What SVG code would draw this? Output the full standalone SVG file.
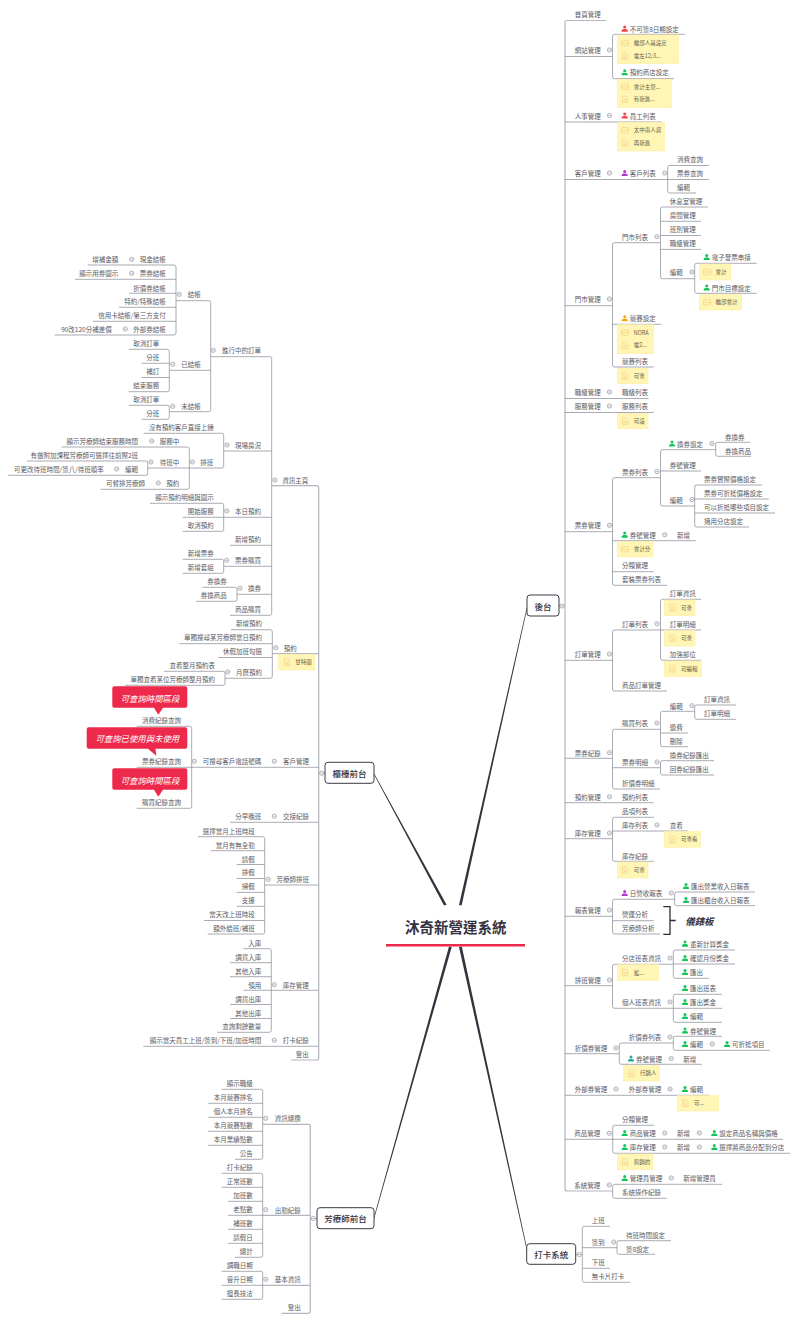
<svg xmlns="http://www.w3.org/2000/svg" width="798" height="1321" viewBox="0 0 798 1321">
<style>
text{font-family:"Noto Sans CJK TC","Noto Sans CJK SC","Liberation Sans",sans-serif;dominant-baseline:central}
.t,.r{font-size:6.5px;fill:#5a5a64}
.r{text-anchor:end}
.s{font-size:5.5px;fill:#66604a}
.b{font-size:8.5px;font-weight:500;fill:#33333f;text-anchor:middle}
.box{fill:#fff;stroke:#3a3a48;stroke-width:1}
.note{fill:#fff5b5;stroke:#ffeea6;stroke-width:.6}
.l{fill:none;stroke:#8f8f9a;stroke-width:.75}
.k{fill:none;stroke:#b4b4c0;stroke-width:1.2}
.dot{fill:#fff;stroke:#8f8f9a;stroke-width:.7}
.dm{stroke:#8f8f9a;stroke-width:.6}
.ic{fill:none;stroke:#f7cf82;stroke-width:.7}
.c{fill:#ee2a4c}
.ct{font-size:8.4px;font-style:italic;fill:#fff;text-anchor:middle}
.ur{fill:#f2434a}.ug{fill:#12c45c}.up{fill:#b23ad2}.uo{fill:#ffa600}.ut{fill:#24a79c}
</style>
<defs>
<g id="u"><circle cx="0" cy="-1.6" r="1.5"/><path d="M-3 3V1.9Q-3 .7-1 .4H1Q3 .7 3 1.9V3Z"/></g>
<g id="d"><circle class="dot" r="2.1"/><path class="dm" d="M-1.2 0H1.2"/></g>
<g id="ca"><rect class="ic" x="-3.5" y="-2.7" width="7" height="5.4" rx=".8"/><path class="ic" d="M-3.5 0H3.5"/></g>
<g id="do"><path class="ic" d="M-2.6-3.2H1L2.6-1.6V3.2H-2.6ZM-1.2 0H1.2M-1.2 1.5H1.2"/></g>
</defs>
<rect width="798" height="1321" fill="#fff"/>
<g id="connectors">
<path fill="#34343f" d="M459 905L526.7 607.7 527.3 607.9 461.6 905.5ZM444 905.5L373.7 774 374.3 773.7 446.6 904.7ZM449 946.5L373.7 1218 374.3 1218.2 451.7 947ZM459 947L526.7 1250 527.3 1249.8 461.8 946.6Z"/>
<path d="M386 945.3H525" stroke="#ee2a4c" stroke-width="2.6" fill="none"/>
<path class="k" d="M271.7 485.7H316.7Q318.7 485.7 318.7 487.7V1058Q318.7 1060 316.7 1060H291M318.7 773H325"/>
<path class="k" d="M606 20.5H567Q565 20.5 565 22.5V1189Q565 1191 567 1191H612.7M559 605.5H565"/>
<path class="k" d="M262.7 1124.3H308.3Q310.3 1124.3 310.3 1126.3V1311.3Q310.3 1313.3 308.3 1313.3H281.7M262.7 1215.3H310.3M262.7 1285.3H310.3M310.3 1218.5H317"/>
<path class="l" d="M565 56.5H612.5M685 34.3H614.5Q612.5 34.3 612.5 36.3V76.7Q612.5 78.7 614.5 78.7H674M565 122H661.7M565 179.5H709M709 165.5H669.7Q667.7 165.5 667.7 167.5V191Q667.7 193 669.7 193H696M565 305.7H612.5M660.5 242.7H614.5Q612.5 242.7 612.5 244.7V365Q612.5 367 614.5 367H653.7M612.5 324.3H661.3M708 207H662.5Q660.5 207 660.5 209V276.7Q660.5 278.7 662.5 278.7H694.7M660.5 221.3H701M660.5 235.5H701M660.5 249.4H701M756.7 263.3H696.7Q694.7 263.3 694.7 265.3V291.3Q694.7 293.3 696.7 293.3H756.7M565 398.5H648.7M565 412.5H653.7"/>
<path class="l" d="M565 531.7H612.5M660.5 477.7H614.5Q612.5 477.7 612.5 479.7V583.3Q612.5 585.3 614.5 585.3H667M612.5 540.7H695.7M612.5 571.7H653.7M715.7 449.7H662.5Q660.5 449.7 660.5 451.7V504Q660.5 506 662.5 506H694.7M660.5 471H701M750 442.3H717.7Q715.7 442.3 715.7 444.3V454.3Q715.7 456.3 717.7 456.3H751M762 485H696.7Q694.7 485 694.7 487V525Q694.7 527 696.7 527H749M694.7 499H768.7M694.7 513H775"/>
<path class="l" d="M565 660.3H612.5M660.5 630H614.5Q612.5 630 612.5 632V689Q612.5 691 614.5 691H667M701 599.3H662.5Q660.5 599.3 660.5 601.3V658.3Q660.5 660.3 662.5 660.3H701M660.5 630H701M565 758.3H612.5M660.5 729.3H614.5Q612.5 729.3 612.5 731.3V787Q612.5 789 614.5 789H660M612.5 767.7H660.5M694.7 711.3H662.5Q660.5 711.3 660.5 713.3V744.7Q660.5 746.7 662.5 746.7H688M660.5 733H688M736 705H696.7Q694.7 705 694.7 707V717.3Q694.7 719.3 696.7 719.3H736M714 760.7H662.5Q660.5 760.7 660.5 762.7V773Q660.5 775 662.5 775H714M565 802.7H653.7M565 838.7H612.5M654 817.3H614.5Q612.5 817.3 612.5 819.3V859.3Q612.5 861.3 614.5 861.3H654M612.5 831H688"/>
<path class="l" d="M565 916.3H612.5M674.7 899.3H614.5Q612.5 899.3 612.5 901.3V932Q612.5 934 614.5 934H660M612.5 920.7H653.7M755 892H676.7Q674.7 892 674.7 894V903.7Q674.7 905.7 676.7 905.7H755M565 985.7H612.5M673.3 964.3H614.5Q612.5 964.3 612.5 966.3V1006.3Q612.5 1008.3 614.5 1008.3H673.3M735 950H675.3Q673.3 950 673.3 952V976.3Q673.3 978.3 675.3 978.3H709M673.3 964H735M722 994.3H675.3Q673.3 994.3 673.3 996.3V1020.3Q673.3 1022.3 675.3 1022.3H722M673.3 1008.3H722M565 1053.7H619.3M673.3 1043H621.3Q619.3 1043 619.3 1045V1062.3Q619.3 1064.3 621.3 1064.3H702M722 1036.3H675.3Q673.3 1036.3 673.3 1038.3V1048.3Q673.3 1050.3 675.3 1050.3H770M565 1095.3H709M565 1139.3H783M654 1125.3H614.7Q612.7 1125.3 612.7 1127.3V1151.3Q612.7 1153.3 614.7 1153.3H790M722 1184.3H614.7Q612.7 1184.3 612.7 1186.3V1196.3Q612.7 1198.3 614.7 1198.3H666.7"/>
<path class="l" d="M575.7 1254.5H582.3M610 1226.3H584.3Q582.3 1226.3 582.3 1228.3V1280.3Q582.3 1282.3 584.3 1282.3H630M582.3 1247.7H617M582.3 1268.3H610M671 1240.7H619Q617 1240.7 617 1242.7V1252.3Q617 1254.3 619 1254.3H655"/>
<path class="l" d="M272.3 653.7H318.7M136.7 767.3H318.7M230 822.3H318.7M264.7 885H318.7M271.3 990.3H318.7M143.3 1046.3H318.7M210.7 356.7H269.7Q271.7 356.7 271.7 358.7V613.3Q271.7 615.3 269.7 615.3H230M223.7 451H271.7M223.7 517.3H271.7M230 545.3H271.7M223.7 566.3H271.7M237 594.3H271.7M176 300.7H208.7Q210.7 300.7 210.7 302.7V409.7Q210.7 411.7 208.7 411.7H169.3M169.3 370.3H210.7M87.7 265H174Q176 265 176 267V333Q176 335 174 335H54.7M75 279.3H176M129 293.3H176M119 307.3H176M93 321.3H176M128.7 349.3H167.3Q169.3 349.3 169.3 351.3V389.7Q169.3 391.7 167.3 391.7H128.7M141.7 363.3H169.3M141.7 377.5H169.3M128.7 405.3H167.3Q169.3 405.3 169.3 407.3V417.3Q169.3 419.3 167.3 419.3H141.7M143.7 433.3H221.7Q223.7 433.3 223.7 435.3V466Q223.7 468 221.7 468H147.7M61.7 447H187.3Q189.3 447 189.3 449V487.3Q189.3 489.3 187.3 489.3H100.7M27 461H145.7Q147.7 461 147.7 463V473.3Q147.7 475.3 145.7 475.3H8.3M150 503.3H221.7Q223.7 503.3 223.7 505.3V529.3Q223.7 531.3 221.7 531.3H182.7M182.7 559.3H221.7Q223.7 559.3 223.7 561.3V571.3Q223.7 573.3 221.7 573.3H182.7M202.3 587.3H235Q237 587.3 237 589.3V599.3Q237 601.3 235 601.3H196M182.7 517.3H223.7M231 629.7H270.3Q272.3 629.7 272.3 631.7V676.3Q272.3 678.3 270.3 678.3H225M179.3 643.7H272.3M218.3 657.5H272.3M164 671.3H223Q225 671.3 225 673.3V683.3Q225 685.3 223 685.3H125M136.7 726.3H189.7Q191.7 726.3 191.7 728.3V806.3Q191.7 808.3 189.7 808.3H136.7"/>
<path class="l" d="M198 836.7H262.7Q264.7 836.7 264.7 838.7V932Q264.7 934 262.7 934H207.7M210.7 850.7H264.7M236.7 864.5H264.7M236.7 878.5H264.7M236.7 892.4H264.7M236.7 906.3H264.7M204 920.5H264.7M243.3 948.7H269.3Q271.3 948.7 271.3 950.7V1030.3Q271.3 1032.3 269.3 1032.3H217.3M230 962.7H271.3M230 976.7H271.3M243.3 990.3H271.3M230 1004.5H271.3M230 1018.5H271.3M221.7 1089.3H260.7Q262.7 1089.3 262.7 1091.3V1157.3Q262.7 1159.3 260.7 1159.3H235M208.3 1103.3H262.7M208.3 1117.3H262.7M208.3 1131.3H262.7M208.3 1145.3H262.7M221.7 1173.3H260.7Q262.7 1173.3 262.7 1175.3V1255.3Q262.7 1257.3 260.7 1257.3H235M221.7 1187.3H262.7M228 1201.3H262.7M228 1215.3H262.7M228 1229.3H262.7M228 1243.3H262.7M221.7 1271.3H260.7Q262.7 1271.3 262.7 1273.3V1297.3Q262.7 1299.3 260.7 1299.3H221.7M221.7 1285.3H262.7"/>
<path d="M663.3 906.7H670V934.3H663.3M670 920.5H675.7" fill="none" stroke="#2e2e3a" stroke-width="1.3"/>
<g id="dots">
<use href="#d" x="562" y="606"/><use href="#d" x="609.5" y="50"/><use href="#d" x="609.5" y="115.5"/><use href="#d" x="609.5" y="173"/><use href="#d" x="664.7" y="173"/><use href="#d" x="609.5" y="299"/><use href="#d" x="657" y="236.7"/><use href="#d" x="692" y="272"/><use href="#d" x="609.5" y="392"/><use href="#d" x="609.5" y="406"/><use href="#d" x="609.5" y="525.3"/><use href="#d" x="657" y="471.5"/><use href="#d" x="712" y="443.5"/><use href="#d" x="692" y="499.5"/><use href="#d" x="664.7" y="534.7"/><use href="#d" x="609.5" y="654"/><use href="#d" x="657" y="623.7"/><use href="#d" x="609.5" y="752.7"/><use href="#d" x="657" y="723"/><use href="#d" x="692" y="705.7"/><use href="#d" x="657" y="762"/><use href="#d" x="609.5" y="796.7"/><use href="#d" x="609.5" y="833"/><use href="#d" x="657" y="825"/><use href="#d" x="609.5" y="910"/><use href="#d" x="671.3" y="893"/><use href="#d" x="609.5" y="980"/><use href="#d" x="670" y="958"/><use href="#d" x="670" y="1002"/><use href="#d" x="616" y="1048"/><use href="#d" x="670" y="1037"/><use href="#d" x="712.3" y="1044"/><use href="#d" x="671.3" y="1058.5"/><use href="#d" x="616" y="1089"/><use href="#d" x="670" y="1089"/><use href="#d" x="609.3" y="1133.3"/><use href="#d" x="664.7" y="1133"/><use href="#d" x="699.3" y="1133"/><use href="#d" x="664.7" y="1147"/><use href="#d" x="699.3" y="1147"/><use href="#d" x="609.3" y="1185"/><use href="#d" x="671.3" y="1178"/><use href="#d" x="579.3" y="1254.5"/><use href="#d" x="613.7" y="1242"/>
<use href="#d" x="321.7" y="773.3"/><use href="#d" x="275" y="480"/><use href="#d" x="213.3" y="350.3"/><use href="#d" x="179.3" y="294.3"/><use href="#d" x="131.7" y="259.3"/><use href="#d" x="131.7" y="273.3"/><use href="#d" x="125.3" y="329"/><use href="#d" x="172.7" y="364.3"/><use href="#d" x="172.7" y="406.3"/><use href="#d" x="227" y="445"/><use href="#d" x="192.3" y="462"/><use href="#d" x="151.7" y="441"/><use href="#d" x="151" y="462"/><use href="#d" x="116.7" y="469"/><use href="#d" x="158.3" y="483"/><use href="#d" x="226.7" y="511"/><use href="#d" x="226.7" y="560.3"/><use href="#d" x="240" y="588.3"/><use href="#d" x="275.7" y="647.7"/><use href="#d" x="227.7" y="672"/><use href="#d" x="274.3" y="761.3"/><use href="#d" x="194.3" y="761.3"/><use href="#d" x="274.3" y="816.3"/><use href="#d" x="268.3" y="879.3"/><use href="#d" x="274.3" y="984.7"/><use href="#d" x="274.3" y="1040.3"/>
<use href="#d" x="313.3" y="1218.5"/><use href="#d" x="265.7" y="1118.3"/><use href="#d" x="265.7" y="1209.7"/><use href="#d" x="265.7" y="1279.3"/>
</g>
</g>
<g id="root"><text x="455.7" y="926" font-size="14.5" font-weight="700" fill="#33333f" text-anchor="middle">沐奇新營運系統</text></g>
<g id="backend"><rect class="box" x="527" y="595" width="32" height="21" rx="3"/><text class="b" x="543" y="605.5">後台</text></g>
<g id="counter"><rect class="box" x="325" y="762.3" width="49" height="21" rx="3"/><text class="b" x="349.5" y="772.8">櫃檯前台</text></g>
<g id="therapist"><rect class="box" x="317" y="1207.7" width="57" height="21" rx="3"/><text class="b" x="345.5" y="1218.2">芳療師前台</text></g>
<g id="clock"><rect class="box" x="526.7" y="1243.7" width="49" height="20.6" rx="3"/><text class="b" x="551.2" y="1254">打卡系統</text></g>
<g id="r1"><text class="t" x="574.7" y="14">首頁管理</text></g>
<g id="r2"><text class="t" x="574.7" y="50">網站管理</text></g>
<g id="r3"><use href="#u" class="ur" x="624.7" y="28.7"/><text class="t" x="629.7" y="28.7">不可簽8日期設定</text></g>
<g id="r4"><rect class="note" x="617.3" y="35" width="61.4" height="28.7"/><use href="#ca" x="625" y="43"/><use href="#do" x="625" y="56"/><text class="s" x="633.7" y="43">櫃部人員設定</text><text class="s" x="633.7" y="56">電左12/3...</text></g>
<g id="r5"><use href="#u" class="ug" x="624.7" y="72.3"/><text class="t" x="629.7" y="72.3">預約商店設定</text></g>
<g id="r6"><rect class="note" x="617.3" y="79.3" width="54.4" height="28.4"/><use href="#ca" x="625" y="86.7"/><use href="#do" x="625" y="99.3"/><text class="s" x="633.7" y="86.7">會計主管...</text><text class="s" x="633.7" y="99.3">有新進...</text></g>
<g id="r7"><text class="t" x="574.7" y="115.5">人事管理</text></g>
<g id="r8"><use href="#u" class="ur" x="624.7" y="115.5"/><text class="t" x="629.7" y="115.5">員工列表</text></g>
<g id="r9"><rect class="note" x="617.3" y="122.3" width="47.4" height="28.7"/><use href="#ca" x="625" y="130.3"/><use href="#do" x="625" y="143"/><text class="s" x="633.7" y="130.3">太中南人資</text><text class="s" x="633.7" y="143">再新進</text></g>
<g id="r10"><text class="t" x="574.7" y="173">客戶管理</text></g>
<g id="r11"><use href="#u" class="up" x="624.7" y="173"/><text class="t" x="629.7" y="173">客戶列表</text></g>
<g id="r12"><text class="t" x="677" y="159">消費查詢</text></g>
<g id="r13"><text class="t" x="677" y="173">票券查詢</text></g>
<g id="r14"><text class="t" x="677" y="187">編輯</text></g>
<g id="r15"><text class="t" x="574.7" y="299">門市管理</text></g>
<g id="r16"><text class="t" x="622" y="236.7">門市列表</text></g>
<g id="r17"><text class="t" x="669.7" y="201">休息室管理</text></g>
<g id="r18"><text class="t" x="669.7" y="215">房間管理</text></g>
<g id="r19"><text class="t" x="669.7" y="229">班別管理</text></g>
<g id="r20"><text class="t" x="669.7" y="243">職級管理</text></g>
<g id="r21"><text class="t" x="669.7" y="272">編輯</text></g>
<g id="r22"><use href="#u" class="ug" x="706.7" y="257"/><text class="t" x="711.7" y="257">電子發票串接</text></g>
<g id="r23"><rect class="note" x="699.3" y="264" width="31.4" height="16"/><use href="#ca" x="707" y="272"/><text class="s" x="715.5" y="272">會計</text></g>
<g id="r24"><use href="#u" class="ug" x="706.7" y="287.5"/><text class="t" x="711.7" y="287.5">門市目標設定</text></g>
<g id="r25"><rect class="note" x="699.3" y="294.7" width="42.4" height="15.3"/><use href="#ca" x="707" y="302.3"/><text class="s" x="715.5" y="302.3">櫃部會計</text></g>
<g id="r26"><use href="#u" class="uo" x="624.7" y="318.3"/><text class="t" x="629.7" y="318.3">競賽設定</text></g>
<g id="r27"><rect class="note" x="617.3" y="324.7" width="36.4" height="29"/><use href="#ca" x="625" y="332.7"/><use href="#do" x="625" y="345.3"/><text class="s" x="633.7" y="332.7">NORA</text><text class="s" x="633.7" y="345.3">電2...</text></g>
<g id="r28"><text class="t" x="622" y="361">競賽列表</text></g>
<g id="r29"><rect class="note" x="617.3" y="368.3" width="30.7" height="15.4"/><use href="#do" x="625" y="376"/><text class="s" x="633.7" y="376">可查</text></g>
<g id="r30"><text class="t" x="574.7" y="392">職級管理</text></g>
<g id="r31"><text class="t" x="622" y="392">職級列表</text></g>
<g id="r32"><text class="t" x="574.7" y="406">服務管理</text></g>
<g id="r33"><text class="t" x="622" y="406">服務列表</text></g>
<g id="r34"><rect class="note" x="617.3" y="413.7" width="30.7" height="15"/><use href="#do" x="625" y="421.2"/><text class="s" x="633.7" y="421.2">可設</text></g>
<g id="r35"><text class="t" x="574.7" y="525.3">票券管理</text></g>
<g id="r36"><text class="t" x="622" y="471.5">票券列表</text></g>
<g id="r37"><use href="#u" class="ug" x="672" y="443.5"/><text class="t" x="677" y="443.5">換券設定</text></g>
<g id="r38"><text class="t" x="725" y="437">券換券</text></g>
<g id="r39"><text class="t" x="725" y="450.7">券換商品</text></g>
<g id="r40"><text class="t" x="669.7" y="465">券號管理</text></g>
<g id="r41"><text class="t" x="669.7" y="499.5">編輯</text></g>
<g id="r42"><text class="t" x="704" y="478.5">票券實際價格設定</text></g>
<g id="r43"><text class="t" x="704" y="492.7">票券可折抵價格設定</text></g>
<g id="r44"><text class="t" x="704" y="506.7">可以折抵哪些項目設定</text></g>
<g id="r45"><text class="t" x="704" y="520.7">適用分店設定</text></g>
<g id="r46"><use href="#u" class="ug" x="624.7" y="534.7"/><text class="t" x="629.7" y="534.7">券號管理</text></g>
<g id="r47"><text class="t" x="677" y="534.7">新增</text></g>
<g id="r48"><rect class="note" x="617.3" y="541.5" width="35.7" height="15.5"/><use href="#ca" x="625" y="549.2"/><text class="s" x="633.7" y="549.2">會計分</text></g>
<g id="r49"><text class="t" x="622" y="565">分類管理</text></g>
<g id="r50"><text class="t" x="622" y="579">套裝票券列表</text></g>
<g id="r51"><text class="t" x="574.7" y="654">訂單管理</text></g>
<g id="r52"><text class="t" x="622" y="623.7">訂單列表</text></g>
<g id="r53"><text class="t" x="669.7" y="593.3">訂單資訊</text></g>
<g id="r54"><rect class="note" x="664.3" y="600" width="30.7" height="15.5"/><use href="#do" x="672.5" y="607.7"/><text class="s" x="681" y="607.7">可查</text></g>
<g id="r55"><text class="t" x="669.7" y="623.7">訂單明細</text></g>
<g id="r56"><rect class="note" x="664.3" y="630.6" width="30.7" height="15.5"/><use href="#do" x="672.5" y="638.3"/><text class="s" x="681" y="638.3">可查</text></g>
<g id="r57"><text class="t" x="669.7" y="654">加強部位</text></g>
<g id="r58"><rect class="note" x="664.3" y="661" width="37.4" height="15.7"/><use href="#do" x="672.5" y="668.8"/><text class="s" x="681" y="668.8">可編輯</text></g>
<g id="r59"><text class="t" x="622" y="684.7">商品訂單管理</text></g>
<g id="r60"><text class="t" x="574.7" y="752.7">票券紀錄</text></g>
<g id="r61"><text class="t" x="622" y="723">購買列表</text></g>
<g id="r62"><text class="t" x="669.7" y="705.7">編輯</text></g>
<g id="r63"><text class="t" x="704" y="699">訂單資訊</text></g>
<g id="r64"><text class="t" x="704" y="713">訂單明細</text></g>
<g id="r65"><text class="t" x="669.7" y="727">退費</text></g>
<g id="r66"><text class="t" x="669.7" y="741">刪除</text></g>
<g id="r67"><text class="t" x="622" y="762">票券明細</text></g>
<g id="r68"><text class="t" x="669.7" y="755">換券紀錄匯出</text></g>
<g id="r69"><text class="t" x="669.7" y="769">回券紀錄匯出</text></g>
<g id="r70"><text class="t" x="622" y="783">折價券明細</text></g>
<g id="r71"><text class="t" x="574.7" y="796.7">預約管理</text></g>
<g id="r72"><text class="t" x="622" y="796.7">預約列表</text></g>
<g id="r73"><text class="t" x="574.7" y="833">庫存管理</text></g>
<g id="r74"><text class="t" x="622" y="811">品項列表</text></g>
<g id="r75"><text class="t" x="622" y="825">庫存列表</text></g>
<g id="r76"><text class="t" x="669.7" y="825">查看</text></g>
<g id="r77"><rect class="note" x="664.3" y="831.5" width="36.4" height="15.8"/><use href="#do" x="672.5" y="839.4"/><text class="s" x="681" y="839.4">可查看</text></g>
<g id="r78"><text class="t" x="622" y="855.7">庫存紀錄</text></g>
<g id="r79"><rect class="note" x="617.3" y="862" width="30.7" height="16"/><use href="#do" x="625" y="870"/><text class="s" x="633.7" y="870">可查</text></g>
<g id="r80"><text class="t" x="574.7" y="910">報表管理</text></g>
<g id="r81"><use href="#u" class="up" x="624.7" y="893"/><text class="t" x="629.7" y="893">日營收報表</text></g>
<g id="r82"><use href="#u" class="ug" x="686" y="886"/><text class="t" x="691" y="886">匯出營業收入日報表</text></g>
<g id="r83"><use href="#u" class="ug" x="686" y="900"/><text class="t" x="691" y="900">匯出櫃台收入日報表</text></g>
<g id="r84"><text class="t" x="622" y="914">營運分析</text></g>
<g id="r85"><text class="t" x="622" y="928">芳療師分析</text></g>
<g id="r86"><text x="685.3" y="920.5" font-size="9.4" font-weight="700" font-style="italic" fill="#33333f">儀錶板</text></g>
<g id="r87"><text class="t" x="574.7" y="980">排班管理</text></g>
<g id="r88"><text class="t" x="622" y="958">分店班表資訊</text></g>
<g id="r89"><rect class="note" x="617.3" y="964.6" width="41.4" height="15.7"/><use href="#do" x="625" y="972.5"/><text class="s" x="634" y="972.5">藍...</text></g>
<g id="r90"><use href="#u" class="ug" x="685" y="943.7"/><text class="t" x="690" y="943.7">重新計算獎金</text></g>
<g id="r91"><use href="#u" class="ug" x="685" y="958"/><text class="t" x="690" y="958">確認月份獎金</text></g>
<g id="r92"><use href="#u" class="ug" x="685" y="972"/><text class="t" x="690" y="972">匯出</text></g>
<g id="r93"><text class="t" x="622" y="1002">個人班表資訊</text></g>
<g id="r94"><use href="#u" class="ug" x="685" y="988"/><text class="t" x="690" y="988">匯出班表</text></g>
<g id="r95"><use href="#u" class="ug" x="685" y="1002"/><text class="t" x="690" y="1002">匯出獎金</text></g>
<g id="r96"><use href="#u" class="ug" x="685" y="1016"/><text class="t" x="690" y="1016">編輯</text></g>
<g id="r97"><text class="t" x="574.7" y="1048">折價券管理</text></g>
<g id="r98"><text class="t" x="628.7" y="1037">折價券列表</text></g>
<g id="r99"><use href="#u" class="ug" x="685" y="1030.5"/><text class="t" x="690" y="1030.5">券號管理</text></g>
<g id="r100"><use href="#u" class="ug" x="685" y="1044"/><text class="t" x="690" y="1044">編輯</text></g>
<g id="r101"><use href="#u" class="ug" x="727" y="1044"/><text class="t" x="732" y="1044">可折抵項目</text></g>
<g id="r102"><use href="#u" class="ut" x="631" y="1058.5"/><text class="t" x="636" y="1058.5">券號管理</text></g>
<g id="r103"><text class="t" x="683.3" y="1058.5">新增</text></g>
<g id="r104"><rect class="note" x="623.3" y="1065.7" width="36.4" height="15.3"/><use href="#do" x="631.5" y="1073.3"/><text class="s" x="640" y="1073.3">行銷人</text></g>
<g id="r105"><text class="t" x="574.7" y="1089">外部券管理</text></g>
<g id="r106"><text class="t" x="628.7" y="1089">外部券管理</text></g>
<g id="r107"><use href="#u" class="ug" x="685" y="1089"/><text class="t" x="690" y="1089">編輯</text></g>
<g id="r108"><rect class="note" x="677.3" y="1095.7" width="41.4" height="15.3"/><use href="#do" x="685.5" y="1103.3"/><text class="s" x="694" y="1103.3">可...</text></g>
<g id="r109"><text class="t" x="574.3" y="1133.3">商品管理</text></g>
<g id="r110"><text class="t" x="622" y="1119">分類管理</text></g>
<g id="r111"><use href="#u" class="ug" x="624.7" y="1133"/><text class="t" x="629.7" y="1133">商品管理</text></g>
<g id="r112"><text class="t" x="677" y="1133">新增</text></g>
<g id="r113"><use href="#u" class="ug" x="714.3" y="1133"/><text class="t" x="719.3" y="1133">設定商品名稱與價格</text></g>
<g id="r114"><use href="#u" class="ug" x="624.7" y="1147"/><text class="t" x="629.7" y="1147">庫存管理</text></g>
<g id="r115"><text class="t" x="677" y="1147">新增</text></g>
<g id="r116"><use href="#u" class="ug" x="714.3" y="1147"/><text class="t" x="719.3" y="1147">選擇將商品分配到分店</text></g>
<g id="r117"><rect class="note" x="617.3" y="1154" width="35.7" height="15.7"/><use href="#do" x="625" y="1161.9"/><text class="s" x="633.7" y="1161.9">剪銷的</text></g>
<g id="r118"><text class="t" x="574.3" y="1185">系統管理</text></g>
<g id="r119"><use href="#u" class="ug" x="624.7" y="1178"/><text class="t" x="629.7" y="1178">管理員管理</text></g>
<g id="r120"><text class="t" x="683.3" y="1178">新增管理員</text></g>
<g id="r121"><text class="t" x="622" y="1192">系統操作紀錄</text></g>
<g id="c1"><text class="t" x="591.7" y="1220.3">上班</text></g>
<g id="c2"><text class="t" x="591.7" y="1242">簽到</text></g>
<g id="c3"><text class="t" x="626" y="1235">待班時間設定</text></g>
<g id="c4"><text class="t" x="626" y="1248.7">簽8設定</text></g>
<g id="c5"><text class="t" x="591.7" y="1262.3">下班</text></g>
<g id="c6"><text class="t" x="591.7" y="1276">無卡片打卡</text></g>
<g id="l1"><text class="r" x="308.3" y="480">資訊主頁</text></g>
<g id="l2"><text class="r" x="261" y="350.3">進行中的訂單</text></g>
<g id="l3"><text class="r" x="200.7" y="294.3">結帳</text></g>
<g id="l4"><text class="r" x="165.7" y="259.3">現金結帳</text></g>
<g id="l5"><text class="r" x="118.3" y="259.3">增補金額</text></g>
<g id="l6"><text class="r" x="165.7" y="273.3">票券結帳</text></g>
<g id="l7"><text class="r" x="118.3" y="273.3">顯示用券圖示</text></g>
<g id="l8"><text class="r" x="165.7" y="287.5">折價券結帳</text></g>
<g id="l9"><text class="r" x="165.7" y="301.3">特約/特殊結帳</text></g>
<g id="l10"><text class="r" x="165.7" y="315.3">信用卡結帳/第三方支付</text></g>
<g id="l11"><text class="r" x="165.7" y="329">外部券結帳</text></g>
<g id="l12"><text class="r" x="111.7" y="329">90改120分補差價</text></g>
<g id="l13"><text class="r" x="200.7" y="364.3">已結帳</text></g>
<g id="l14"><text class="r" x="159.3" y="343.3">取消訂單</text></g>
<g id="l15"><text class="r" x="159.3" y="357.3">分班</text></g>
<g id="l16"><text class="r" x="159.3" y="371.3">補訂</text></g>
<g id="l17"><text class="r" x="159.3" y="385.3">結束服務</text></g>
<g id="l18"><text class="r" x="200.7" y="406.3">未結帳</text></g>
<g id="l19"><text class="r" x="159.3" y="399.3">取消訂單</text></g>
<g id="l20"><text class="r" x="159.3" y="413">分班</text></g>
<g id="l21"><text class="r" x="261" y="445">現場房況</text></g>
<g id="l22"><text class="r" x="213.7" y="427.3">沒有預約客戶直接上鐘</text></g>
<g id="l23"><text class="r" x="213.3" y="462">排班</text></g>
<g id="l24"><text class="r" x="179.3" y="441">服務中</text></g>
<g id="l25"><text class="r" x="138" y="441">顯示芳療師結束服務時間</text></g>
<g id="l26"><text class="r" x="179.3" y="462">待班中</text></g>
<g id="l27"><text class="r" x="138" y="455">有做附加課程芳療師可選擇往前際2班</text></g>
<g id="l28"><text class="r" x="138" y="469">編輯</text></g>
<g id="l29"><text class="r" x="103.7" y="469">可更改待班時間/簽八/待班順率</text></g>
<g id="l30"><text class="r" x="179.3" y="483">預約</text></g>
<g id="l31"><text class="r" x="145" y="483">可暫排芳療師</text></g>
<g id="l32"><text class="r" x="261" y="511">本日預約</text></g>
<g id="l33"><text class="r" x="213.7" y="497.3">顯示預約明細與圖示</text></g>
<g id="l34"><text class="r" x="213.7" y="511.3">開始服務</text></g>
<g id="l35"><text class="r" x="213.7" y="525">取消預約</text></g>
<g id="l36"><text class="r" x="261" y="539.3">新增預約</text></g>
<g id="l37"><text class="r" x="261" y="560.3">票券購買</text></g>
<g id="l38"><text class="r" x="213.7" y="553">新增票券</text></g>
<g id="l39"><text class="r" x="213.7" y="567">新增套組</text></g>
<g id="l40"><text class="r" x="261" y="588.3">換券</text></g>
<g id="l41"><text class="r" x="226.7" y="581.3">券換券</text></g>
<g id="l42"><text class="r" x="226.7" y="595.3">券換商品</text></g>
<g id="l43"><text class="r" x="261" y="609.3">商品購買</text></g>
<g id="l44"><text class="r" x="296.7" y="647.7">預約</text></g>
<g id="l45"><rect class="note" x="278.7" y="654.3" width="36.3" height="15.7"/><use href="#do" x="287" y="662.2"/><text class="s" x="295.3" y="662.2">甘特圖</text></g>
<g id="l46"><text class="r" x="262" y="623.3">新增預約</text></g>
<g id="l47"><text class="r" x="262" y="637.3">單獨搜尋某芳療師當日預約</text></g>
<g id="l48"><text class="r" x="262" y="651.3">休假加班勾選</text></g>
<g id="l49"><text class="r" x="262" y="672">月曆預約</text></g>
<g id="l50"><text class="r" x="215" y="665">查看整月預約表</text></g>
<g id="l51"><text class="r" x="215" y="679">單獨查看某位芳療師整月預約</text></g>
<g id="l52"><text class="r" x="309" y="761.3">客戶管理</text></g>
<g id="l53"><text class="r" x="261.3" y="761.3">可搜尋客戶電話號碼</text></g>
<g id="l54"><path class="c" d="M114.3 686.3H185.3Q187.3 686.3 187.3 688.3V705.7Q187.3 707.7 185.3 707.7H163L158.3 714.7 154 707.7H114.3Q112.3 707.7 112.3 705.7V688.3Q112.3 686.3 114.3 686.3Z"/><text class="ct" x="150" y="697.5">可查詢時間區段</text></g>
<g id="l55"><text class="r" x="181" y="720.3">消費紀錄查詢</text></g>
<g id="l56"><path class="c" d="M88.7 727.3H185.3Q187.3 727.3 187.3 729.3V746.7Q187.3 748.7 185.3 748.7H155.5L156.3 755.7 148 748.7H88.7Q86.7 748.7 86.7 746.7V729.3Q86.7 727.3 88.7 727.3Z"/><text class="ct" x="137.3" y="738">可查詢已使用與未使用</text></g>
<g id="l57"><text class="r" x="181" y="761.3">票券紀錄查詢</text></g>
<g id="l58"><path class="c" d="M114.3 768.3H185.3Q187.3 768.3 187.3 770.3V787.7Q187.3 789.7 185.3 789.7H163L158.3 796.7 154 789.7H114.3Q112.3 789.7 112.3 787.7V770.3Q112.3 768.3 114.3 768.3Z"/><text class="ct" x="150" y="779.5">可查詢時間區段</text></g>
<g id="l59"><text class="r" x="181" y="802.3">購買紀錄查詢</text></g>
<g id="l60"><text class="r" x="309" y="816.3">交接紀錄</text></g>
<g id="l61"><text class="r" x="261.3" y="816.3">分早晚班</text></g>
<g id="l62"><text class="r" x="309" y="879.3">芳療師排班</text></g>
<g id="l63"><text class="r" x="254.7" y="830.5">選擇當月上班時段</text></g>
<g id="l64"><text class="r" x="254.7" y="844.5">當月有無全勤</text></g>
<g id="l65"><text class="r" x="254.7" y="858.5">請假</text></g>
<g id="l66"><text class="r" x="254.7" y="872.3">排假</text></g>
<g id="l67"><text class="r" x="254.7" y="886.3">掃假</text></g>
<g id="l68"><text class="r" x="254.7" y="900.3">支援</text></g>
<g id="l69"><text class="r" x="254.7" y="914.3">當天改上班時段</text></g>
<g id="l70"><text class="r" x="254.7" y="928.3">額外給班/補班</text></g>
<g id="l71"><text class="r" x="308.7" y="984.7">庫存管理</text></g>
<g id="l72"><text class="r" x="261.3" y="942.7">入庫</text></g>
<g id="l73"><text class="r" x="261.3" y="956.7">調貨入庫</text></g>
<g id="l74"><text class="r" x="261.3" y="970.7">其他入庫</text></g>
<g id="l75"><text class="r" x="261.3" y="984.7">領用</text></g>
<g id="l76"><text class="r" x="261.3" y="998.7">調貨出庫</text></g>
<g id="l77"><text class="r" x="261.3" y="1012.7">其他出庫</text></g>
<g id="l78"><text class="r" x="261.3" y="1026.3">查詢剩餘數量</text></g>
<g id="l79"><text class="r" x="308.7" y="1040.3">打卡紀錄</text></g>
<g id="l80"><text class="r" x="261.3" y="1040.3">顯示當天員工上班/簽到/下班/加班時間</text></g>
<g id="l81"><text class="r" x="308.7" y="1054">登出</text></g>
<g id="t1"><text class="r" x="300.7" y="1118.3">資訊總攬</text></g>
<g id="t2"><text class="r" x="252.7" y="1083.3">顯示職級</text></g>
<g id="t3"><text class="r" x="252.7" y="1097">本月競賽排名</text></g>
<g id="t4"><text class="r" x="252.7" y="1111">個人本月排名</text></g>
<g id="t5"><text class="r" x="252.7" y="1125">本月競賽點數</text></g>
<g id="t6"><text class="r" x="252.7" y="1139">本月業績點數</text></g>
<g id="t7"><text class="r" x="252.7" y="1153">公告</text></g>
<g id="t8"><text class="r" x="300.7" y="1209.7">出勤紀錄</text></g>
<g id="t9"><text class="r" x="252.7" y="1167.3">打卡紀錄</text></g>
<g id="t10"><text class="r" x="252.7" y="1181.3">正常班數</text></g>
<g id="t11"><text class="r" x="252.7" y="1195">加班數</text></g>
<g id="t12"><text class="r" x="252.7" y="1209">老點數</text></g>
<g id="t13"><text class="r" x="252.7" y="1223">補班數</text></g>
<g id="t14"><text class="r" x="252.7" y="1237">請假日</text></g>
<g id="t15"><text class="r" x="252.7" y="1251">總計</text></g>
<g id="t16"><text class="r" x="300.7" y="1279.3">基本資訊</text></g>
<g id="t17"><text class="r" x="252.7" y="1265.3">調職日期</text></g>
<g id="t18"><text class="r" x="252.7" y="1279.3">晉升日期</text></g>
<g id="t19"><text class="r" x="252.7" y="1293">擅長技法</text></g>
<g id="t20"><text class="r" x="300.7" y="1307">登出</text></g>
</svg>
